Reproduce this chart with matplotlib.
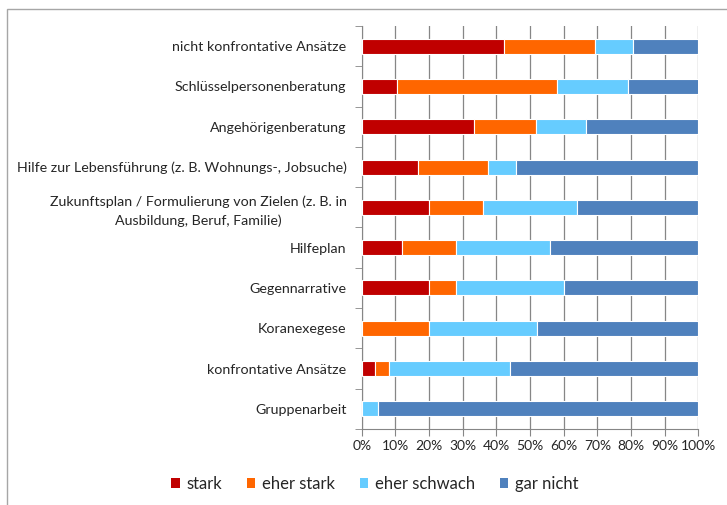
import matplotlib
matplotlib.use("Agg")
import matplotlib.pyplot as plt
from matplotlib.patches import Rectangle, Patch
import numpy as np

categories = [
    "nicht konfrontative Ansätze",
    "Schlüsselpersonenberatung",
    "Angehörigenberatung",
    "Hilfe zur Lebensführung (z. B. Wohnungs-, Jobsuche)",
    "Zukunftsplan / Formulierung von Zielen (z. B. in\nAusbildung, Beruf, Familie)",
    "Hilfeplan",
    "Gegennarrative",
    "Koranexegese",
    "konfrontative Ansätze",
    "Gruppenarbeit",
]
series_names = ["stark", "eher stark", "eher schwach", "gar nicht"]
stark        = [42.3, 10.5, 33.3, 16.7, 20.0, 12.0, 20.0, 0.0, 4.0, 0.0]
eher_stark   = [26.9, 47.4, 18.5, 20.8, 16.0, 16.0, 8.0, 20.0, 4.0, 0.0]
eher_schwach = [11.5, 21.1, 14.8, 8.3, 28.0, 28.0, 32.0, 32.0, 36.0, 4.8]
gar_nicht    = [19.2, 21.1, 33.3, 54.2, 36.0, 44.0, 40.0, 48.0, 56.0, 95.2]
colors = ["#C00000", "#FF6600", "#66CCFF", "#4F81BD"]
xtick_labels = [f"{v}%" for v in range(0, 101, 10)]

plt.rcParams["font.family"] = ["Lato", "DejaVu Sans"]

fig = plt.figure(figsize=(7.27, 5.05), dpi=100)
# outer chart border
fig.patches.append(Rectangle((7 / 727, -0.1), 1.1, 1 - 9 / 505 + 0.1, transform=fig.transFigure,
                             fill=False, edgecolor="#A6A6A6", linewidth=1.0))

ax = fig.add_axes([361.7 / 727, 1 - 429 / 505, (698.3 - 361.7) / 727, (429 - 26) / 505])

data = [stark, eher_stark, eher_schwach, gar_nicht]
y = np.arange(len(categories))
left = np.zeros(len(categories))
for vals, col, name in zip(data, colors, series_names):
    vals = np.array(vals)
    ax.barh(y, vals, left=left, height=0.37, color=col, edgecolor="white",
            linewidth=0.8, label=name, zorder=3)
    left += vals

ax.set_xlim(0, 100)
ax.set_ylim(len(categories) - 0.5, -0.5)
ax.set_xticks(np.arange(0, 101, 10))
ax.set_xticklabels(xtick_labels, fontsize=10, color="#262626")
ax.set_yticks(y)
ax.set_yticklabels(categories, fontsize=10.3, color="#262626", multialignment="center",
                   linespacing=1.6)
ax.tick_params(axis="y", length=0, pad=11)
ax.tick_params(axis="x", length=5, color="#868686", direction="out", pad=3)
# category boundary ticks on left
ax.set_yticks(np.arange(-0.5, len(categories), 1), minor=True)
ax.tick_params(axis="y", which="minor", length=5, color="#868686")

ax.grid(axis="x", color="#868686", linewidth=0.9, zorder=0)
for s in ["top", "right"]:
    ax.spines[s].set_visible(False)
ax.spines["left"].set_color("#868686")
ax.spines["bottom"].set_color("#868686")

handles = [Patch(facecolor=c, label=n) for c, n in zip(colors, series_names)]
fig.legend(handles=handles, loc="center", bbox_to_anchor=(375 / 727, 1 - 484 / 505),
           ncol=4, frameon=False, fontsize=12, handlelength=0.5, handleheight=0.5,
           handletextpad=0.4, columnspacing=1.5, labelcolor="#262626")

fig.savefig("out.png", dpi=100)
